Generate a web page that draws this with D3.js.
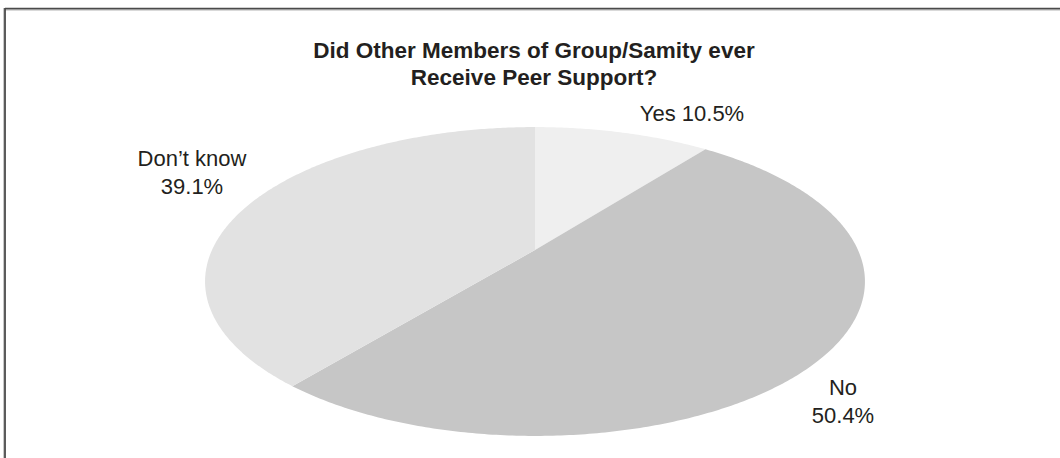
<!DOCTYPE html>
<html>
<head>
<meta charset="utf-8">
<script src="https://cdn.jsdelivr.net/npm/d3@7"></script>
<style>
  html, body { margin: 0; padding: 0; background: #fff; }
  svg { display: block; }
  text { font-family: "Liberation Sans", Arial, sans-serif; fill: #231f20; }
</style>
</head>
<body>
<svg id="chart" width="1060" height="458"></svg>
<script>
// Survey answers and their shares (%)
const categories = ["Yes", "No", "Don\u2019t know"];
const shares = [10.5, 50.4, 39.1];
const sliceColors = ["#efefef", "#c6c6c6", "#e2e2e2"];
const titleLines = ["Did Other Members of Group/Samity ever", "Receive Peer Support?"];

const W = 1060, H = 458;
const svg = d3.select("#chart");

// Frame (left and top rules)
svg.append("line").attr("x1", 3.5).attr("y1", 8).attr("x2", 3.5).attr("y2", H)
  .attr("stroke", "#c8c8c8").attr("stroke-width", 1);
svg.append("line").attr("x1", 5).attr("y1", 10.2).attr("x2", W).attr("y2", 10.2)
  .attr("stroke", "#c8c8c8").attr("stroke-width", 1);
svg.append("line").attr("x1", 5).attr("y1", 8.7).attr("x2", W).attr("y2", 8.7)
  .attr("stroke", "#4a4a4a").attr("stroke-width", 1.8);
svg.append("line").attr("x1", 5).attr("y1", 8).attr("x2", 5).attr("y2", H)
  .attr("stroke", "#4a4a4a").attr("stroke-width", 1.8);

// Title
svg.append("text")
  .attr("text-anchor", "middle")
  .attr("font-size", 22.5).attr("font-weight", "bold")
  .selectAll("tspan").data(titleLines).join("tspan")
  .attr("x", 534).attr("y", (d, i) => 58 + i * 27)
  .text(d => d);

// Tilted pie seen in perspective: a flat disc projected onto the page
const cx = 535, cy = 250;
const A = 323;    // horizontal scale of the disc
const B = 148;    // vertical scale (tilt)
const k = 0.204;  // perspective strength
function project(theta, s) {
  const den = 1 + k * s * Math.cos(theta);
  return [cx + A * s * Math.sin(theta) / den, cy - B * s * Math.cos(theta) / den];
}

const pie = d3.pie().sort(null).value(d => d.value)
  .startAngle(0).endAngle(2 * Math.PI);
const slices = pie(categories.map((c, i) => ({ cat: c, value: shares[i], color: sliceColors[i] })));

const line = d3.line();
function slicePath(d) {
  const pts = [project(0, 0)];
  const n = Math.max(8, Math.ceil((d.endAngle - d.startAngle) / 0.01));
  for (let j = 0; j <= n; j++) {
    const t = d.startAngle + (d.endAngle - d.startAngle) * j / n;
    pts.push(project(t, 1));
  }
  return line(pts) + "Z";
}

svg.append("g").selectAll("path").data(slices).join("path")
  .attr("d", slicePath)
  .attr("fill", d => d.data.color);

// Data labels
const labelLayout = {
  "Yes": { x: 692, y: 121, lines: d => [`${d.cat} ${d.value}%`] },
  "No": { x: 843, y: 395, lines: d => [d.cat, `${d.value}%`] },
  "Don\u2019t know": { x: 192, y: 166, lines: d => [d.cat, `${d.value}%`] }
};
const labels = svg.append("g").selectAll("text").data(slices).join("text")
  .attr("text-anchor", "middle").attr("font-size", 22);
labels.each(function(d) {
  const L = labelLayout[d.data.cat];
  d3.select(this).selectAll("tspan").data(L.lines(d.data)).join("tspan")
    .attr("x", L.x).attr("y", (t, i) => L.y + i * 28)
    .text(t => t);
});
</script>
</body>
</html>
